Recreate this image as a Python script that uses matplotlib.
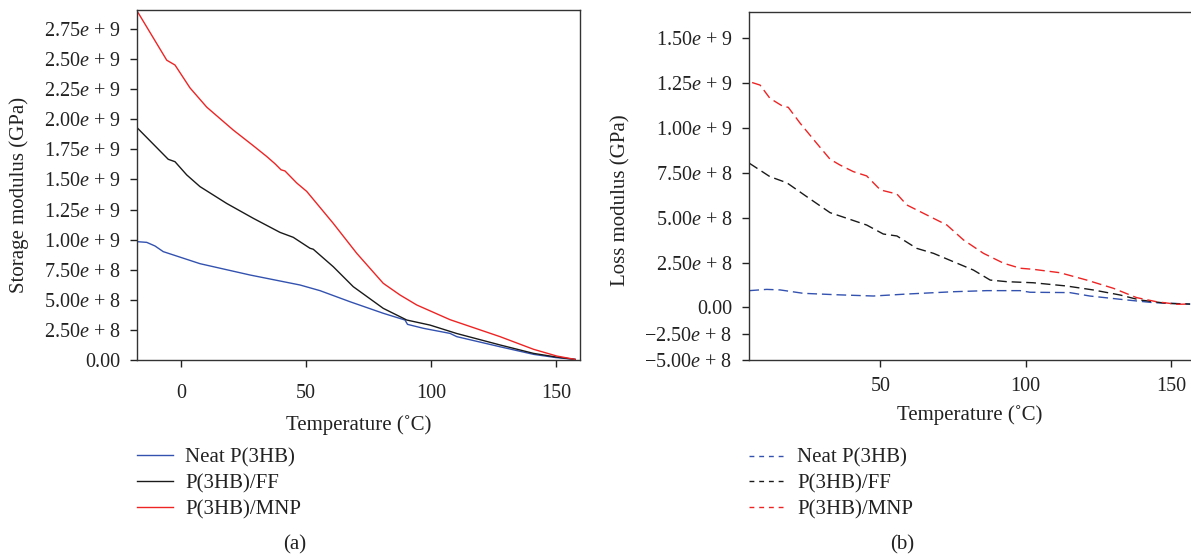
import matplotlib
matplotlib.use("Agg")
import matplotlib.pyplot as plt
from matplotlib.lines import Line2D

plt.rcParams['font.family'] = ['Liberation Serif', 'DejaVu Serif']
plt.rcParams['mathtext.fontset'] = 'custom'
plt.rcParams['mathtext.rm'] = 'Liberation Serif'
plt.rcParams['mathtext.it'] = 'Liberation Serif:italic'

# ---------------- data: storage modulus (a) ----------------
neat_T = [-17.6, -13.7, -10.4, -7.1, 7.6, 27.6, 47.6, 55.6, 67.6, 80.9, 89.6, 90.6,
          97.0, 107.6, 110.3, 127.6, 141.0, 150.0, 157.6]
neat_E = [0.983, 0.977, 0.947, 0.90, 0.80, 0.706, 0.623, 0.576, 0.484, 0.388, 0.332, 0.296,
          0.263, 0.221, 0.194, 0.11, 0.047, 0.02, 0.005]
ff_T = [-17.6, -5.1, -2.4, 2.3, 7.6, 18.3, 28.9, 39.6, 44.9, 51.6, 52.9, 60.9, 68.9,
        80.9, 90.3, 99.6, 110.3, 127.6, 141.0, 150.0, 157.6]
ff_E = [1.93, 1.667, 1.647, 1.537, 1.44, 1.30, 1.177, 1.06, 1.019, 0.928, 0.92, 0.775, 0.609,
        0.429, 0.332, 0.29, 0.22, 0.125, 0.055, 0.025, 0.005]
mnp_T = [-17.6, -5.7, -2.4, 3.6, 10.3, 20.9, 28.9, 34.3, 37.6, 40.0, 41.6, 46.3, 50.3,
         60.9, 70.3, 80.9, 87.6, 94.3, 107.6, 127.6, 141.0, 150.3, 157.6]
mnp_E = [2.90, 2.49, 2.45, 2.26, 2.10, 1.91, 1.78, 1.69, 1.63, 1.58, 1.57, 1.47, 1.40,
         1.135, 0.886, 0.637, 0.54, 0.457, 0.335, 0.194, 0.089, 0.033, 0.005]

# ---------------- data: loss modulus (b) ----------------
neat_Tl = [4.9, 10.9, 15.5, 23.5, 35.0, 47.6, 59.1, 75.2, 86.6, 98.1, 101.5, 115.2,
           122.1, 132.4, 143.9, 156.6]
neat_L = [0.093, 0.10, 0.097, 0.078, 0.070, 0.063, 0.074, 0.087, 0.093, 0.093, 0.084, 0.082,
          0.063, 0.045, 0.026, 0.018]
ff_Tl = [4.9, 12.0, 17.8, 24.7, 32.7, 38.4, 45.3, 51.0, 55.7, 62.5, 68.3, 75.2, 82.0,
         87.8, 93.5, 102.6, 114.0, 123.2, 132.4, 139.3, 148.5, 156.6]
ff_L = [0.804, 0.729, 0.695, 0.617, 0.528, 0.497, 0.459, 0.409, 0.398, 0.329, 0.301, 0.254,
        0.208, 0.152, 0.143, 0.137, 0.119, 0.097, 0.069, 0.041, 0.022, 0.018]
mnp_Tl = [4.9, 4.9, 8.6, 12.0, 16.6, 18.3, 22.4, 28.1, 32.7, 36.1, 40.7, 45.3, 50.0, 55.7,
          59.1, 66.0, 72.9, 78.6, 85.5, 92.4, 98.1, 102.6, 111.8, 121.0, 130.2, 138.2,
          145.1, 152.0, 156.6]
mnp_L = [1.324, 1.259, 1.24, 1.166, 1.12, 1.116, 1.027, 0.915, 0.826, 0.794, 0.757, 0.733,
         0.655, 0.632, 0.571, 0.515, 0.459, 0.376, 0.301, 0.246, 0.218, 0.212, 0.193, 0.152,
         0.106, 0.054, 0.031, 0.017, 0.018]

series_names = ['Neat P(3HB)', 'P(3HB)/FF', 'P(3HB)/MNP']

left_yticks = [0, 0.25e9, 0.5e9, 0.75e9, 1.0e9, 1.25e9, 1.5e9, 1.75e9, 2.0e9, 2.25e9, 2.5e9, 2.75e9]
left_ylabels = ['0.00', '2.50$e$ + 8', '5.00$e$ + 8', '7.50$e$ + 8', '1.00$e$ + 9', '1.25$e$ + 9',
                '1.50$e$ + 9', '1.75$e$ + 9', '2.00$e$ + 9', '2.25$e$ + 9', '2.50$e$ + 9', '2.75$e$ + 9']
right_yticks = [-0.294e9, -0.149e9, 0, 0.25e9, 0.5e9, 0.75e9, 1.0e9, 1.25e9, 1.5e9]
right_ylabels = ['\u22125.00$e$ + 8', '\u22122.50$e$ + 8', '0.00', '2.50$e$ + 8', '5.00$e$ + 8',
                 '7.50$e$ + 8', '1.00$e$ + 9', '1.25$e$ + 9', '1.50$e$ + 9']
xticks = [0, 50, 100, 150]
right_xticks = [50, 100, 150]

colors = ['#3352b0', '#1a1a1a', '#ee2424']

W, H = 1191, 560
fig = plt.figure(figsize=(W / 100, H / 100), dpi=100)

def axrect(l, r, t, b):
    return [l / W, 1 - b / H, (r - l) / W, (b - t) / H]

FS = 14.5
ax1 = fig.add_axes(axrect(137, 580, 10, 360))
ax2 = fig.add_axes(axrect(749.3, 1191, 12.3, 360))

for T, E, c in zip([neat_T, ff_T, mnp_T], [neat_E, ff_E, mnp_E], colors):
    ax1.plot(T, [e * 1e9 for e in E], color=c, lw=1.0)
for T, E, c in zip([neat_Tl, ff_Tl, mnp_Tl], [neat_L, ff_L, mnp_L], colors):
    ax2.plot(T, [e * 1e9 for e in E], color=c, lw=1.0, dashes=(7, 3.5))

ax1.set_yticks(left_yticks)
ax1.set_yticklabels(left_ylabels)
ax2.set_yticks(right_yticks)
ax2.set_yticklabels(right_ylabels)
ax1.set_xticks(xticks)
ax1.set_xticklabels([str(v) for v in xticks])
ax2.set_xticks(right_xticks)
ax2.set_xticklabels([str(v) for v in right_xticks])

ax1.set_xlim(-17.6, 159.6)
ax1.set_ylim(0, 2.907e9)
ax2.set_xlim(4.9, 156.9)
ax2.set_ylim(-0.294e9, 1.646e9)

for ax in (ax1, ax2):
    ax.tick_params(labelsize=FS, colors='#222222', length=5, width=1.0, direction='out')
    ax.tick_params(axis='y', pad=7)
    for s in ax.spines.values():
        s.set_color('#333333')
        s.set_linewidth(1.0)
    ax.set_xlabel('Temperature (\u02daC)', fontsize=FS + 0.5, color='#222222')
ax2.spines['right'].set_visible(False)
ax1.tick_params(axis='x', pad=12)
ax2.tick_params(axis='x', pad=7)

ax1.set_ylabel('Storage modulus (GPa)', fontsize=FS + 0.5, color='#222222')
ax2.set_ylabel('Loss modulus (GPa)', fontsize=FS + 0.5, color='#222222')
ax1.yaxis.set_label_coords(-0.244, 0.471)
ax2.yaxis.set_label_coords(-0.268, 0.46)
ax1.xaxis.set_label_coords(0.5, -0.157)
ax2.xaxis.set_label_coords(0.5, -0.13)

h1 = [Line2D([], [], color=c, lw=1.0) for c in colors]
h2 = [Line2D([], [], color=c, lw=1.0, dashes=(3.5, 3.5)) for c in colors]
for ax, hs, pad in ((ax1, h1, -0.252), (ax2, h2, -0.254)):
    ax.legend(hs, series_names, loc='upper left', bbox_to_anchor=(0, pad), frameon=False,
              fontsize=FS + 0.5, borderaxespad=0, borderpad=0, handlelength=1.75,
              handletextpad=0.55, labelspacing=0.3, labelcolor='#222222')

fig.text(295 / W, 1 - 545 / H, '(a)', ha='center', va='center', fontsize=FS + 0.5, color='#222222')
fig.text(902 / W, 1 - 545 / H, '(b)', ha='center', va='center', fontsize=FS + 0.5, color='#222222')

fig.savefig('out.png', dpi=100)
